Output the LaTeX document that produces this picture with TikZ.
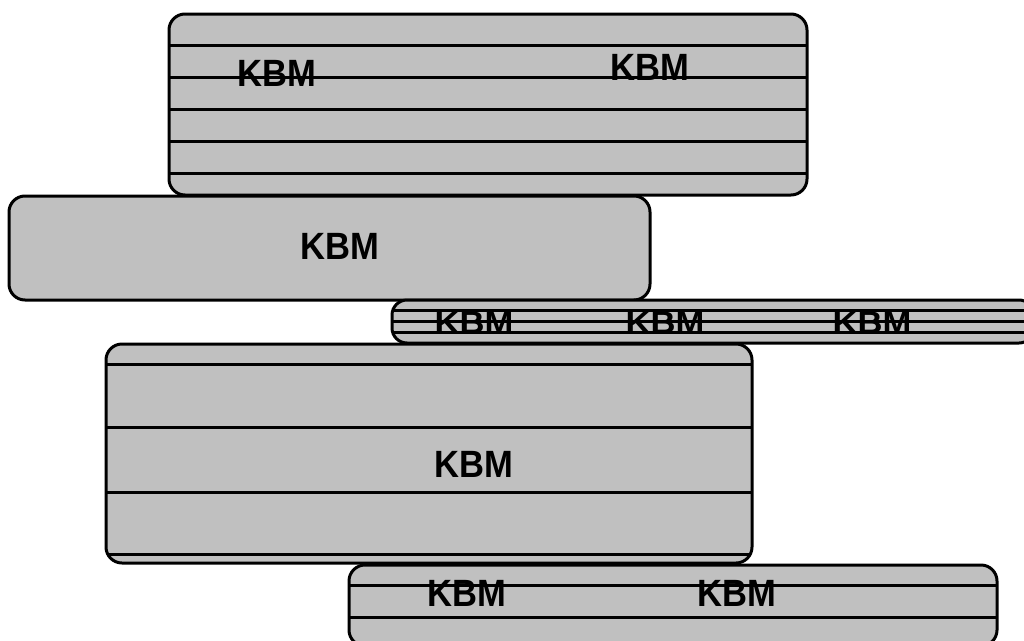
\documentclass[tikz,border=0pt]{standalone}
\usepackage{fontspec}
\setmainfont{Liberation Sans}
\definecolor{boxgray}{HTML}{C0C0C0}
\tikzset{
  boxfill/.style={fill=boxgray},
  inner/.style={draw=black,line width=3pt},
  border/.style={draw=black,line width=3pt},
  lbl/.style={inner sep=0pt,font=\fontsize{38}{38}\selectfont\bfseries},
}
\newcommand\kbm{\scalebox{0.91}[1]{KBM}}
\newcommand\kbmthin{\scalebox{0.91}[0.82]{KBM}}
\begin{document}
\begin{tikzpicture}[x=1pt,y=-1pt]
\useasboundingbox (0,0) rectangle (1024,640);
\fill[white] (0,0) rectangle (1024,640);
% top box
\begin{scope}
  \clip[rounded corners=16pt] (169,14) rectangle (807,195);
  \fill[boxfill] (169,14) rectangle (807,195);
  \foreach \y in {45,77,109,141,173} \draw[inner] (160,\y) -- (820,\y);
\end{scope}
\draw[border,rounded corners=16pt] (169,14) rectangle (807,195);
\node[lbl] (t1) at (277,73) {\kbm};
\node[lbl] (t2) at (650,67) {\kbm};
% second box
\filldraw[boxfill,border,rounded corners=16pt] (9,196) rectangle (650,300);
\node[lbl] (b2) at (340,246) {\kbm};
% thin band
\begin{scope}
  \clip[rounded corners=15pt] (392,300) rectangle (1034,343);
  \fill[boxfill] (392,300) rectangle (1034,343);
  \foreach \y in {310,321,332} \draw[inner] (380,\y) -- (1040,\y);
\end{scope}
\draw[border,rounded corners=15pt] (392,300) rectangle (1034,343);
\node[lbl] (s1) at (474,323) {\kbmthin};
\node[lbl] (s2) at (665,323) {\kbmthin};
\node[lbl] (s3) at (872,323) {\kbmthin};
% fourth box
\begin{scope}
  \clip[rounded corners=16pt] (106,344) rectangle (752,563);
  \fill[boxfill] (106,344) rectangle (752,563);
  \foreach \y in {364,427,492,554} \draw[inner] (100,\y) -- (760,\y);
\end{scope}
\draw[border,rounded corners=16pt] (106,344) rectangle (752,563);
\node[lbl] (c1) at (474,464) {\kbm};
% bottom box
\begin{scope}
  \clip[rounded corners=16pt] (349,565) rectangle (997,646);
  \fill[boxfill] (349,565) rectangle (997,646);
  \foreach \y in {585,617} \draw[inner] (340,\y) -- (1005,\y);
\end{scope}
\draw[border,rounded corners=16pt] (349,565) rectangle (997,646);
\node[lbl] (d1) at (467,593) {\kbm};
\node[lbl] (d2) at (737,593) {\kbm};
\end{tikzpicture}
\end{document}
